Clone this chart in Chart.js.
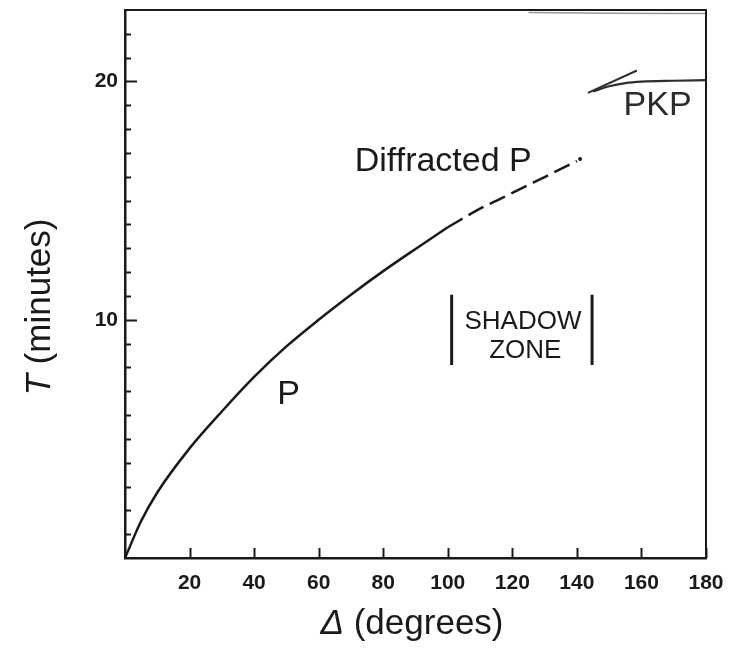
<!DOCTYPE html>
<html>
<head>
<meta charset="utf-8">
<title>Travel times</title>
<script src="https://cdn.jsdelivr.net/npm/chart.js@4.4.1/dist/chart.umd.min.js"></script>
<style>
  html, body { margin: 0; padding: 0; background: #fff; }
  #wrap { width: 731px; height: 650px; }
</style>
</head>
<body>
<div id="wrap"><canvas id="ttChart"></canvas></div>
<script>
// Travel-time curves: distance (degrees) vs time (minutes)
const pDeg = [0, 5, 10, 20, 30, 40, 50, 60, 70, 80, 90, 100];
const pMin = [0, 1.55, 2.75, 4.6, 6.15, 7.6, 8.88, 10.0, 11.05, 12.04, 12.97, 13.88];
const diffDeg = [100, 110, 120, 130, 140];
const diffMin = [13.88, 14.66, 15.32, 15.99, 16.66];
const pkpDeg = [145, 150, 155, 160, 170, 180];
const pkpMin = [19.58, 19.8, 19.93, 19.99, 20.03, 20.06];
const pkpSteepDeg = [143.4, 158.6];
const pkpSteepMin = [19.52, 20.46];
const topDeg = [125, 150, 180];
const topMin = [22.9, 22.86, 22.85];
const shadowLeftDeg = [101.2, 101.2];
const shadowRightDeg = [144.7, 144.7];
const shadowMin = [8.1, 11.05];
const endDotDeg = [141];
const endDotMin = [16.75];

// Axes
const xTicks = [20, 40, 60, 80, 100, 120, 140, 160, 180];
const yTicks = [10, 20];
const xMax = 180;
const yMax = 23;

const FONT = "'Liberation Sans', Arial, Helvetica, sans-serif";
const INK = '#1a1a1a';

const toPoints = (xs, ys) => xs.map((x, i) => ({ x: x, y: ys[i] }));

function lineSet(xs, ys, extra) {
    return Object.assign({
        data: toPoints(xs, ys),
        borderColor: INK,
        borderWidth: 2.5,
        pointRadius: 0,
        fill: false,
        tension: 0.4,
        cubicInterpolationMode: 'monotone'
    }, extra || {});
}

// Text labels placed in data coordinates
const notes = [
    { text: 'Diffracted P', deg: 98.6, min: 16.25, size: 34 },
    { text: 'P', deg: 50.7, min: 6.45, size: 34 },
    { text: 'PKP', deg: 165, min: 18.6, size: 34, color: '#2b2b2b' },
    { text: 'SHADOW', deg: 123.3, min: 9.6, size: 26 },
    { text: 'ZONE', deg: 124, min: 8.38, size: 26 }
];

// Frame, inward ticks, notes and axis titles
const framePlugin = {
    id: 'frame',
    afterDraw(chart) {
        const ctx = chart.ctx;
        const area = chart.chartArea;
        const xs = chart.scales.x;
        const ys = chart.scales.y;
        ctx.save();

        // top and right edges of the box
        ctx.strokeStyle = INK;
        ctx.lineWidth = 2;
        ctx.beginPath();
        ctx.moveTo(area.left, area.top);
        ctx.lineTo(area.right, area.top);
        ctx.lineTo(area.right, area.bottom);
        ctx.stroke();

        // y ticks pointing into the plot, one per minute
        ctx.lineWidth = 2;
        for (let v = 1; v < yMax; v++) {
            const py = Math.round(ys.getPixelForValue(v)) + 0.5;
            const len = yTicks.includes(v) ? 12 : 6;
            ctx.beginPath();
            ctx.moveTo(area.left, py);
            ctx.lineTo(area.left + len, py);
            ctx.stroke();
        }
        // x ticks pointing up
        xTicks.forEach(v => {
            const px = Math.round(xs.getPixelForValue(v)) + 0.5;
            ctx.beginPath();
            ctx.moveTo(px, area.bottom);
            ctx.lineTo(px, area.bottom - 10);
            ctx.stroke();
        });

        // notes
        ctx.textAlign = 'center';
        ctx.textBaseline = 'alphabetic';
        notes.forEach(n => {
            ctx.font = `${n.size}px ${FONT}`;
            ctx.fillStyle = n.color || INK;
            ctx.fillText(n.text, xs.getPixelForValue(n.deg), ys.getPixelForValue(n.min));
        });

        // axis titles with italic symbol
        ctx.textBaseline = 'middle';
        ctx.textAlign = 'left';
        ctx.fillStyle = INK;
        const drawTitle = (sym, rest, cx, cy, rot) => {
            ctx.save();
            ctx.translate(cx, cy);
            ctx.rotate(rot);
            ctx.font = `italic 35px ${FONT}`;
            const w1 = ctx.measureText(sym).width;
            ctx.font = `35px ${FONT}`;
            const w2 = ctx.measureText(rest).width;
            const start = -(w1 + w2) / 2;
            ctx.font = `italic 35px ${FONT}`;
            ctx.fillText(sym, start, 0);
            ctx.font = `35px ${FONT}`;
            ctx.fillText(rest, start + w1, 0);
            ctx.restore();
        };
        drawTitle('\u0394', ' (degrees)', 412, 624, 0);
        drawTitle('T', ' (minutes)', 40, 307, -Math.PI / 2);

        ctx.restore();
    }
};

const ttChart = new Chart(document.getElementById('ttChart'), {
    type: 'line',
    data: {
        datasets: [
            lineSet(pDeg, pMin),
            lineSet(diffDeg, diffMin, { borderDash: [17, 7] }),
            lineSet(pkpDeg, pkpMin, { borderColor: '#2e2e2e', borderWidth: 2.2 }),
            lineSet(pkpSteepDeg, pkpSteepMin, { borderColor: '#2e2e2e', borderWidth: 2, tension: 0 }),
            lineSet(topDeg, topMin, { borderColor: '#9a9a9a', borderWidth: 1.5 }),
            lineSet(shadowLeftDeg, shadowMin, { borderWidth: 3, tension: 0 }),
            lineSet(shadowRightDeg, shadowMin, { borderWidth: 3, tension: 0 }),
            lineSet(endDotDeg, endDotMin, { pointRadius: 2, pointBackgroundColor: INK, borderWidth: 0 })
        ]
    },
    options: {
        responsive: true,
        maintainAspectRatio: false,
        animation: false,
        layout: { padding: { left: 0, top: 10, right: 25, bottom: 0 } },
        plugins: {
            legend: { display: false },
            tooltip: { enabled: false }
        },
        scales: {
            x: {
                type: 'linear',
                min: 0,
                max: xMax,
                grid: { display: false, drawTicks: false },
                border: { display: true, color: INK, width: 2.5 },
                afterBuildTicks: scale => { scale.ticks = xTicks.map(v => ({ value: v })); },
                afterFit: scale => {
                    scale.height = 92;
                    scale.paddingLeft = 0;
                    scale.paddingRight = 0;
                },
                ticks: {
                    autoSkip: false,
                    maxRotation: 0,
                    padding: 13,
                    color: INK,
                    font: { family: FONT, size: 21, weight: 'bold' }
                }
            },
            y: {
                type: 'linear',
                min: 0,
                max: yMax,
                grid: { display: false, drawTicks: false },
                border: { display: true, color: INK, width: 2.5 },
                afterBuildTicks: scale => { scale.ticks = yTicks.map(v => ({ value: v })); },
                afterFit: scale => {
                    scale.width = 125;
                    scale.paddingTop = 0;
                    scale.paddingBottom = 0;
                },
                ticks: {
                    autoSkip: false,
                    padding: 7,
                    color: INK,
                    font: { family: FONT, size: 21, weight: 'bold' }
                }
            }
        }
    },
    plugins: [framePlugin]
});
</script>
</body>
</html>
